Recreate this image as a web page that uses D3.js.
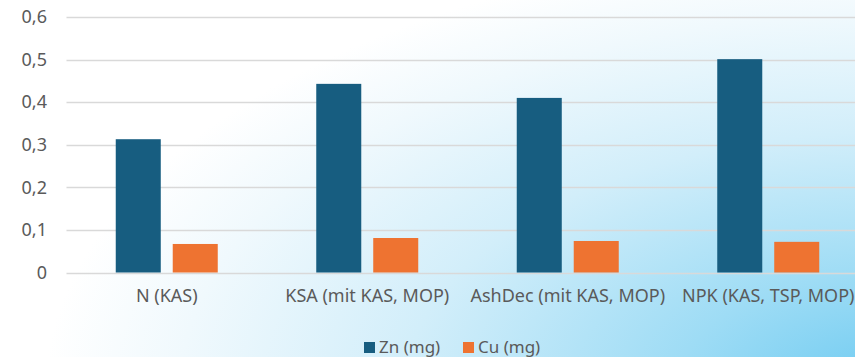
<!DOCTYPE html>
<html>
<head>
<meta charset="utf-8">
<script src="https://cdn.jsdelivr.net/npm/d3@7"></script>
<style>
  html, body { margin: 0; padding: 0; overflow: hidden; }
  svg { display: block; }
  text { font-family: "Noto Sans", "Open Sans", sans-serif; fill: #5a5a5a; }
</style>
</head>
<body>
<svg id="chart" width="855" height="357"></svg>
<script>
// Zinc and copper content per fertiliser variant
const categories = ["N (KAS)", "KSA (mit KAS, MOP)", "AshDec (mit KAS, MOP)", "NPK (KAS, TSP, MOP)"];
const seriesNames = ["Zn (mg)", "Cu (mg)"];
const znValues = [0.313, 0.443, 0.410, 0.501];
const cuValues = [0.067, 0.081, 0.074, 0.072];
const yTicks = [0, 0.1, 0.2, 0.3, 0.4, 0.5, 0.6];
const colors = ["#175d80", "#ee7331"];

const W = 855, H = 357;
const FONT = "18px";
const svg = d3.select("#chart");

// Background wash: white top-left fading into sky blue at bottom-right (elliptical)
const defs = svg.append("defs");
const grad = defs.append("radialGradient")
  .attr("id", "bg")
  .attr("gradientUnits", "userSpaceOnUse")
  .attr("cx", 0).attr("cy", 0).attr("r", 1)
  .attr("gradientTransform", "translate(900,390) scale(900,470)");
grad.append("stop").attr("offset", "0%").attr("stop-color", "#6ccaf1");
grad.append("stop").attr("offset", "25%").attr("stop-color", "#9edcf5");
grad.append("stop").attr("offset", "55%").attr("stop-color", "#d2eefa");
grad.append("stop").attr("offset", "80%").attr("stop-color", "#f0f9fd");
grad.append("stop").attr("offset", "95%").attr("stop-color", "#ffffff");
svg.append("rect").attr("width", W).attr("height", H).attr("fill", "url(#bg)");

const plot = { left: 66.5, top: 17, bottom: 272.5, bandWidth: 200.5 };

const x = d3.scaleBand()
  .domain(categories)
  .range([plot.left, plot.left + plot.bandWidth * categories.length])
  .paddingInner(0).paddingOuter(0);

const y = d3.scaleLinear().domain([0, 0.6]).range([plot.bottom, plot.top]);

const inner = d3.scaleBand()
  .domain(seriesNames)
  .range([x.bandwidth() / 2 - 51, x.bandwidth() / 2 + 51])
  .paddingInner(0.21);

// Gridlines
svg.append("g")
  .selectAll("line")
  .data(yTicks)
  .join("line")
  .attr("x1", plot.left)
  .attr("x2", W)
  .attr("y1", d => Math.round(y(d)) + 0.5)
  .attr("y2", d => Math.round(y(d)) + 0.5)
  .attr("stroke", "#d9d9d9")
  .attr("stroke-width", 1.3);

// Y axis labels
const fmt = d => d === 0 ? "0" : d3.format(".1f")(d).replace(".", ",");
const yAxis = d3.axisLeft(y).tickValues(yTicks).tickFormat(fmt).tickSize(0).tickPadding(19.5);
const yg = svg.append("g").attr("transform", `translate(${plot.left},0)`).call(yAxis);
yg.select(".domain").remove();
yg.selectAll("text")
  .style("font-family", '"Noto Sans", sans-serif')
  .style("font-size", FONT)
  .attr("fill", "#5a5a5a");

// Bars
const rows = categories.map((c, i) => ({ cat: c, vals: [znValues[i], cuValues[i]] }));
const groups = svg.append("g")
  .selectAll("g")
  .data(rows)
  .join("g")
  .attr("transform", d => `translate(${x(d.cat)},0)`);

groups.selectAll("rect")
  .data(d => d.vals.map((v, j) => ({ name: seriesNames[j], v, j })))
  .join("rect")
  .attr("x", d => inner(d.name))
  .attr("width", inner.bandwidth())
  .attr("y", d => y(d.v))
  .attr("height", d => y(0) - y(d.v))
  .attr("fill", d => colors[d.j]);

// Category labels
const xAxis = d3.axisBottom(x).tickSize(0).tickPadding(17);
const xg = svg.append("g").attr("transform", `translate(0,${plot.bottom})`).call(xAxis);
xg.select(".domain").remove();
xg.selectAll("text")
  .style("font-family", '"Noto Sans", sans-serif')
  .style("font-size", FONT)
  .attr("fill", "#5a5a5a");

// Legend
const legend = svg.append("g").attr("transform", "translate(364,353)");
const items = [
  { name: seriesNames[0], color: colors[0], dx: 0 },
  { name: seriesNames[1], color: colors[1], dx: 99 }
];
const li = legend.selectAll("g").data(items).join("g")
  .attr("transform", d => `translate(${d.dx},0)`);
li.append("rect").attr("x", 0).attr("y", -11).attr("width", 11).attr("height", 11)
  .attr("fill", d => d.color);
li.append("text").attr("x", 15).attr("y", 0)
  .style("font-size", "17px")
  .text(d => d.name);
</script>
</body>
</html>
